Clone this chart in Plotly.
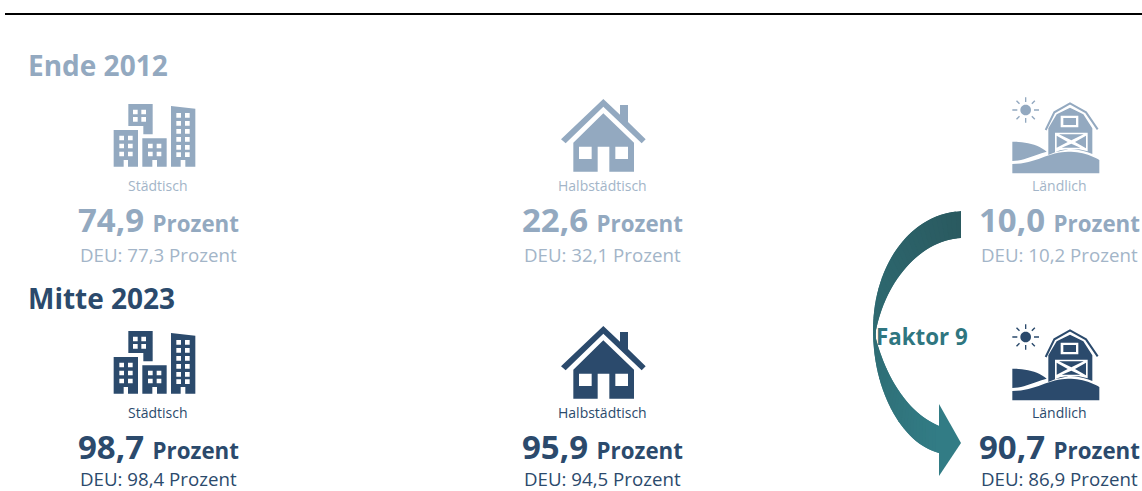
import plotly.graph_objects as go

# ---------- data ----------
categories = ["Städtisch", "Halbstädtisch", "Ländlich"]
periods = ["Ende 2012", "Mitte 2023"]
values_2012 = ["74,9", "22,6", "10,0"]
values_2023 = ["98,7", "95,9", "90,7"]
deu_2012 = ["77,3", "32,1", "10,2"]
deu_2023 = ["98,4", "94,5", "86,9"]
unit = "Prozent"
factor_label = "Faktor 9"

# ---------- style ----------
FONT = "Open Sans"
LIGHT = "#93a9c0"
LIGHT_SOFT = "#a3b5c8"
DARK = "#2b4a6c"
ROW_OFFSET = 227
COL_X = [158, 602, 1059]
ARROW_TOP = (42, 90, 96)
ARROW_BOTTOM = (50, 124, 133)


def poly(points, ox, oy, s=1.0):
    return "M" + " L".join(f"{ox + x * s:.2f},{oy + y * s:.2f}" for x, y in points) + " Z"


def rect(x0, y0, x1, y1):
    return [(x0, y0), (x1, y0), (x1, y1), (x0, y1)]


def bez(p0, p1, p2, p3, t):
    u = 1 - t
    return tuple(u**3 * a + 3 * u**2 * t * b + 3 * u * t**2 * c + t**3 * d
                 for a, b, c, d in zip(p0, p1, p2, p3))


def curve(segments, n):
    pts = []
    for seg in segments:
        pts += [bez(*seg, i / n) for i in range(n)]
    pts.append(segments[-1][-1])
    return pts


def city_icon(oy):
    # glyph outline in thirds of a pixel, origin (0, 0) of the page for the upper row
    s = 1 / 3
    parts = [
        poly([(341, 390), (414, 390), (414, 500), (384, 500), (384, 480), (371, 480), (371, 500), (341, 500)], 0, oy, s),
        poly([(385, 312), (458, 312), (458, 403), (430, 403), (430, 378), (385, 378)], 0, oy, s),
        poly([(427, 415), (500, 415), (500, 500), (471, 500), (471, 480), (457, 480), (457, 500), (427, 500)], 0, oy, s),
        poly([(513, 318), (586, 326), (586, 500), (556, 500), (556, 480), (542, 480), (542, 500), (513, 500)], 0, oy, s),
    ]
    w = 14
    for y in (407, 431, 455):
        for x in (358, 384):
            parts.append(poly(rect(x, y, x + w, y + w), 0, oy, s))
    for y in (329, 351):
        for x in (399, 424):
            parts.append(poly(rect(x, y, x + w, y + w), 0, oy, s))
    for y in (431, 455):
        for x in (444, 470):
            parts.append(poly(rect(x, y, x + w, y + w), 0, oy, s))
    for y in (339, 363, 387, 411, 435, 457):
        for x in (529, 555):
            parts.append(poly(rect(x, y, x + w, y + w), 0, oy, s))
    return " ".join(parts)


def house_icon(oy):
    s = 1 / 3
    ox, base = 500, 90 + oy
    roof = [(310, 27), (360, 74), (360, 45), (384, 45), (384, 96), (437, 148), (425, 160),
            (310, 50), (197, 160), (183, 148)]
    body = [(310, 70), (402, 158), (402, 245), (328, 245), (328, 170), (293, 170), (293, 245),
            (220, 245), (220, 158)]
    return " ".join([
        poly(roof, ox, base, s),
        poly(body, ox, base, s),
        poly(rect(237, 170, 275, 207), ox, base, s),
        poly(rect(346, 170, 384, 207), ox, base, s),
    ])


def barn_icon(oy):
    s = 1 / 3
    ox, base = 1005, 322 - ROW_OFFSET + oy
    left_hill = curve([((22, 140), (60, 140), (100, 148), (125, 170)),
                       ((125, 170), (95, 178), (55, 198), (22, 198))], 12)
    main_hill = curve([((22, 207), (85, 207), (120, 178), (170, 172)),
                       ((170, 172), (215, 166), (255, 178), (283, 195))], 14)
    main_hill += [(283, 235), (22, 235)]
    body_bottom = curve([((262, 177), (225, 162), (190, 160), (165, 166))], 8) + [(130, 180)]
    body = [(130, 100), (155, 58), (195, 38), (235, 58), (262, 100)] + body_bottom
    door = [(150, 113), (248, 113), (248, 169), (222, 163), (190, 163), (150, 172)]
    tris = [
        [(162, 118), (236, 118), (199, 136)],
        [(155, 122), (155, 158), (188, 141)],
        [(243, 122), (243, 160), (210, 141)],
        [(170, 158), (199, 146), (226, 158)],
    ]
    parts = [poly(left_hill, ox, base, s), poly(main_hill, ox, base, s), poly(body, ox, base, s),
             poly(rect(167, 62, 220, 97), ox, base, s), poly(rect(175, 69, 213, 90), ox, base, s),
             poly(door, ox, base, s)]
    parts += [poly(t, ox, base, s) for t in tris]
    # sun disc and rays
    cx, cy = 62, 45
    disc = curve([((cx + 16, cy), (cx + 16, cy + 9), (cx + 9, cy + 16), (cx, cy + 16)),
                  ((cx, cy + 16), (cx - 9, cy + 16), (cx - 16, cy + 9), (cx - 16, cy)),
                  ((cx - 16, cy), (cx - 16, cy - 9), (cx - 9, cy - 16), (cx, cy - 16)),
                  ((cx, cy - 16), (cx + 9, cy - 16), (cx + 16, cy - 9), (cx + 16, cy))], 6)
    parts.append(poly(disc, ox, base, s))
    for dx, dy, w, h in [(-2, -38, 4, 14), (-2, 24, 4, 14), (-40, -2, 15, 4), (25, -2, 15, 4)]:
        parts.append(poly(rect(cx + dx, cy + dy, cx + dx + w, cy + dy + h), ox, base, s))
    for sx, sy in [(1, 1), (1, -1), (-1, 1), (-1, -1)]:
        parts.append(poly([(cx + sx * 17, cy + sy * 20), (cx + sx * 20, cy + sy * 17),
                           (cx + sx * 29, cy + sy * 26), (cx + sx * 26, cy + sy * 29)], ox, base, s))
    return " ".join(parts)


def barn_roof(oy):
    s = 1 / 3
    ox, base = 1005, 322 - ROW_OFFSET + oy
    pts = [(122, 105), (148, 52), (195, 25), (243, 52), (278, 103)]
    return "M" + " L".join(f"{ox + x * s:.2f},{base + y * s:.2f}" for x, y in pts)


shapes = [dict(type="line", x0=5, x1=1142, y0=14, y1=14, line=dict(color="#000000", width=2.2))]

for row, colour in enumerate([LIGHT, DARK]):
    oy = row * ROW_OFFSET
    for path in (city_icon(oy), house_icon(oy), barn_icon(oy)):
        shapes.append(dict(type="path", path=path, fillcolor=colour, fillrule="evenodd",
                           line=dict(width=0)))
    shapes.append(dict(type="path", path=barn_roof(oy), line=dict(color=colour, width=2)))

# curved arrow, drawn as narrow strips so that its colour can run from dark to light
N = 30
outer = curve([((961, 211), (908, 214), (873, 268), (873, 330)),
               ((873, 330), (873, 395), (905, 445), (939, 453))], N)
inner = curve([((961, 238), (920, 240), (884, 282), (875, 335)),
               ((875, 335), (884, 372), (905, 412), (939, 426))], N)
M = len(outer) - 1
for i in range(M):
    f = i / (M - 1)
    col = tuple(round(a + (b - a) * f) for a, b in zip(ARROW_TOP, ARROW_BOTTOM))
    j = min(i + 2, M)  # overlap by one strip to hide seams
    pts = [outer[i], outer[j], inner[j], inner[i]]
    shapes.append(dict(type="path", path=poly(pts, 0, 0), fillcolor=f"rgb{col}", line=dict(width=0)))
shapes.append(dict(type="path", path=poly([(939, 404), (961, 443), (939, 476)], 0, 0),
                   fillcolor=f"rgb{ARROW_BOTTOM}", line=dict(width=0)))

annotations = []


def text(x, y, s, size, colour, anchor="center", bold=False):
    annotations.append(dict(x=x, y=y, text=f"<b>{s}</b>" if bold else s, showarrow=False,
                            xanchor=anchor, yanchor="middle",
                            font=dict(family=FONT, size=size, color=colour)))


text(25.5, 65, periods[0], 28, LIGHT, "left", True)
text(25.5, 298, periods[1], 28, DARK, "left", True)

rows = [(values_2012, deu_2012, LIGHT, LIGHT_SOFT), (values_2023, deu_2023, DARK, DARK)]
for row, (vals, deus, colour, soft) in enumerate(rows):
    oy = row * ROW_OFFSET
    for i, cx in enumerate(COL_X):
        text(cx, 185 + oy, categories[i], 14, soft)
        text(cx, 219.5 + oy, f'<span style="font-size:33px">{vals[i]} </span>{unit}', 22.3, colour, bold=True)
        # the bottom row sits against the page edge: keep its line box inside the picture
        text(cx, min(254 + oy, 478.5), f"DEU: {deus[i]} {unit}", 18.7, soft)

text(922, 336, factor_label, 22.3, "#2f7680", bold=True)

fig = go.Figure()
fig.add_trace(go.Scatter(x=[0, 1142], y=[0, 491], mode="markers", marker=dict(opacity=0),
                         hoverinfo="skip", showlegend=False))
fig.update_layout(
    width=1142, height=491, margin=dict(l=0, r=0, t=0, b=0),
    paper_bgcolor="white", plot_bgcolor="white", showlegend=False,
    xaxis=dict(range=[0, 1142], visible=False, fixedrange=True),
    yaxis=dict(range=[491, 0], visible=False, fixedrange=True),
    shapes=shapes, annotations=annotations,
)
fig.write_html("out.html", config=dict(displayModeBar=False),
               post_script="document.body.style.margin='0';document.body.style.overflow='hidden';")
